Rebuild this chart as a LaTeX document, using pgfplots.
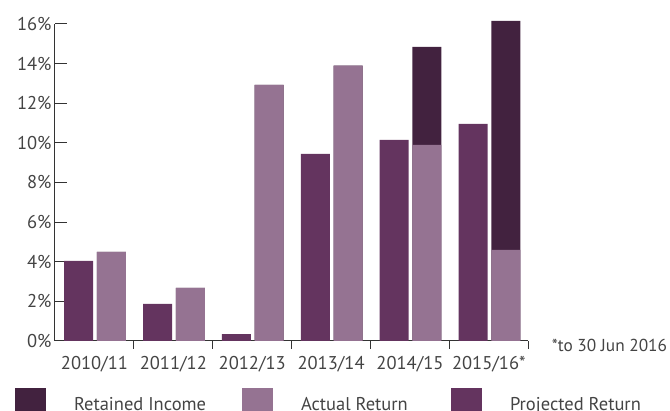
\documentclass[border=0pt]{standalone}
\usepackage{fontspec}
\setmainfont{PT Sans}
\usepackage{pgfplots}
\pgfplotsset{compat=1.18}
\usepackage{pgfplotstable}
\definecolor{retained}{RGB}{66,34,63}
\definecolor{actual}{RGB}{149,115,146}
\definecolor{projected}{RGB}{100,52,95}
\definecolor{txt}{RGB}{68,68,68}
\definecolor{axl}{RGB}{51,51,51}

\pgfplotstableread{
x projected actual retained
0 4.05 4.50 0
1 1.87 2.68 0
2 0.35 12.93 0
3 9.45 13.90 0
4 10.15 9.90 4.95
5 10.96 4.60 11.56
}\data

\begin{document}
\begin{tikzpicture}[font=\fontsize{18.5pt}{22pt}\selectfont]
\pgfplotsset{sq legend/.style={legend image code/.code={\fill[##1] (0pt,-9pt) rectangle (31pt,22pt);}}}
\begin{axis}[
  name=ax, scale only axis, width=473.3pt, height=317pt,
  xmin=-0.5, xmax=5.5, ymin=0, ymax=16, clip=false,
  axis lines*=left, axis line style={axl, line width=1pt, -},
  ytick={0,2,...,16}, yticklabels={0\%,2\%,4\%,6\%,8\%,10\%,12\%,14\%,16\%},
  xtick={0,...,5}, xticklabels={2010/11,2011/12,2012/13,2013/14,2014/15,2015/16*},
  minor xtick={0.5,1.5,2.5,3.5,4.5,5.5},
  tick align=inside, major tick length=12pt, minor tick length=8pt,
  major x tick style={draw=none}, minor x tick style={axl, line width=1pt},
  y tick style={axl, line width=1pt},
  tick label style={text=txt},
  ybar, bar width=29pt,
  legend columns=3,
  legend style={draw=none, fill=none, inner sep=0pt, outer sep=0pt,
    nodes={inner sep=0pt, text=txt},
    at={(axis description cs:-0.0845,-0.1483)}, anchor=north west,
    /tikz/every odd column/.append style={column sep=28pt},
    /tikz/every even column/.append style={column sep=0pt}},
]
\addplot[fill=retained, draw=none, bar shift=17pt, sq legend] table[x=x, y expr=\thisrow{actual}+\thisrow{retained}] {\data};
\addlegendentry{\raisebox{10pt}{\makebox[168pt][l]{Retained Income}}}
\addplot[fill=actual, draw=none, bar shift=17pt, sq legend] table[x=x, y=actual] {\data};
\addlegendentry{\raisebox{10pt}{\makebox[150pt][l]{Actual Return}}}
\addplot[fill=projected, draw=none, bar shift=-15.8pt, sq legend] table[x=x, y=projected] {\data};
\addlegendentry{\raisebox{10pt}{Projected Return}}
\end{axis}
\node[anchor=base west, text=txt, font=\fontsize{17.3pt}{20pt}\selectfont] at ([xshift=20pt,yshift=-10.7pt]ax.south east) {*to 30 Jun 2016};
\pgfresetboundingbox
\useasboundingbox ([xshift=-55pt,yshift=-70pt]ax.south west) rectangle ++(670pt,411pt);
\end{tikzpicture}
\end{document}
